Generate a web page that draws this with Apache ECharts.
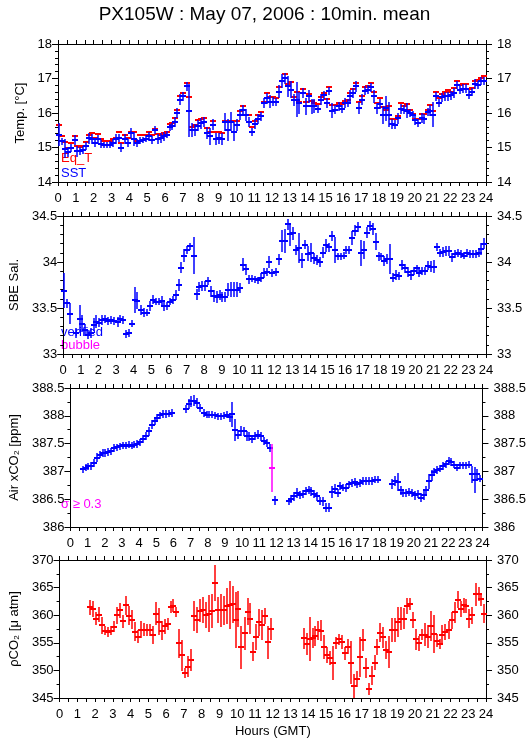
<!DOCTYPE html>
<html>
<head>
<meta charset="utf-8">
<script src="https://cdn.jsdelivr.net/npm/echarts@6/dist/echarts.min.js"></script>
<style>
html,body{margin:0;padding:0;background:#fff;}
#chart{width:529px;height:739px;}
</style>
</head>
<body>
<div id="chart"></div>
<script>
// ---------------- DATA ----------------
const HOUR_TICKS = [0,1,2,3,4,5,6,7,8,9,10,11,12,13,14,15,16,17,18,19,20,21,22,23,24];

// Panel 1: temperatures
const HOURS_T = [
 0.06,0.24,0.41,0.56,0.75,0.94,1.09,1.25,1.40,1.55,
 1.74,1.89,2.06,2.23,2.40,2.57,2.72,2.90,3.09,3.28,
 3.43,3.56,3.75,3.90,4.08,4.27,4.44,4.59,4.78,4.96,
 5.11,5.28,5.43,5.62,5.79,5.94,6.09,6.27,6.42,6.55,
 6.70,6.85,7.02,7.21,7.36,7.53,7.68,7.83,8.01,8.18,
 8.33,8.52,8.67,8.86,9.00,9.19,9.36,9.55,9.70,9.89,
 10.06,10.21,10.39,10.54,10.69,10.88,11.05,11.20,11.37,11.54,
 11.70,11.89,12.08,12.23,12.40,12.55,12.74,12.88,13.05,13.24,
 13.39,13.54,13.73,13.90,14.08,14.23,14.38,14.57,14.72,14.89,
 15.07,15.22,15.39,15.56,15.73,15.90,16.07,16.24,16.39,16.55,
 16.72,16.90,17.06,17.23,17.40,17.57,17.71,17.88,18.03,18.22,
 18.39,18.56,18.73,18.88,19.06,19.23,19.38,19.57,19.72,19.89,
 20.04,20.21,20.41,20.54,20.73,20.88,21.05,21.22,21.39,21.55,
 21.72,21.89,22.06,22.23,22.38,22.55,22.72,22.88,23.05,23.22,
 23.41,23.56,23.73,23.88
];
const SST = [
 15.37,15.18,14.97,14.87,14.98,15.22,14.89,14.89,14.93,15.05,
 15.27,15.25,15.13,15.25,15.10,15.06,15.06,15.08,15.13,15.25,
 15.27,15.00,15.25,15.13,15.42,15.25,15.13,15.20,15.22,15.25,
 15.32,15.22,15.51,15.25,15.27,15.32,15.37,15.58,15.61,15.74,
 16.00,16.38,16.48,16.77,16.07,15.51,15.51,15.63,15.70,15.74,
 15.42,15.32,15.66,15.25,15.27,15.25,15.75,15.51,15.75,15.46,
 15.66,15.95,16.10,15.95,15.74,15.45,15.68,15.83,15.90,16.29,
 16.43,16.33,16.33,16.33,16.62,16.92,17.01,16.77,16.68,16.38,
 16.38,16.29,16.58,16.19,16.48,16.19,16.21,16.12,16.38,16.51,
 16.29,16.65,16.07,16.10,16.19,16.12,16.29,16.29,16.48,16.58,
 16.77,16.14,16.38,16.65,16.68,16.74,16.48,16.14,16.26,15.95,
 16.14,15.95,15.68,15.66,15.85,16.12,16.10,16.07,16.00,15.95,
 15.80,15.70,15.85,15.83,16.03,16.07,15.95,16.48,16.29,16.45,
 16.48,16.48,16.51,16.58,16.80,16.68,16.71,16.71,16.53,16.60,
 16.84,16.80,16.92,16.92
];
const SST_ERR = [
 0.28,0.05,0.21,0.08,0.05,0.08,0.10,0.06,0.05,0.06,
 0.10,0.08,0.06,0.05,0.05,0.03,0.03,0.04,0.05,0.08,
 0.05,0.07,0.08,0.06,0.08,0.15,0.06,0.05,0.04,0.04,
 0.06,0.05,0.06,0.08,0.08,0.06,0.05,0.05,0.05,0.08,
 0.10,0.10,0.08,0.08,0.72,0.15,0.12,0.10,0.10,0.10,
 0.12,0.18,0.10,0.12,0.10,0.12,0.20,0.25,0.22,0.22,
 0.12,0.10,0.08,0.12,0.10,0.05,0.08,0.08,0.08,0.08,
 0.10,0.12,0.08,0.06,0.12,0.15,0.10,0.25,0.20,0.12,
 0.45,0.27,0.10,0.20,0.12,0.15,0.15,0.06,0.10,0.06,
 0.08,0.06,0.15,0.06,0.06,0.06,0.08,0.05,0.12,0.08,
 0.10,0.12,0.10,0.08,0.08,0.06,0.12,0.10,0.10,0.20,
 0.30,0.30,0.10,0.08,0.10,0.08,0.08,0.15,0.06,0.05,
 0.10,0.06,0.08,0.08,0.06,0.10,0.30,0.06,0.06,0.08,
 0.08,0.08,0.08,0.10,0.06,0.06,0.06,0.06,0.08,0.06,
 0.08,0.06,0.06,0.06
];
const EQ_T = [
 15.64,15.32,15.15,14.98,15.13,15.32,15.05,15.02,15.04,15.15,
 15.37,15.42,15.27,15.39,15.25,15.20,15.18,15.20,15.25,15.27,
 15.45,15.13,15.37,15.27,15.46,15.45,15.20,15.37,15.37,15.37,
 15.46,15.37,15.55,15.39,15.37,15.42,15.46,15.68,15.70,15.85,
 16.10,16.48,16.58,16.87,16.45,15.58,15.66,15.80,15.83,15.85,
 15.56,15.46,15.78,15.46,15.46,15.42,15.78,15.78,15.78,15.78,
 15.78,16.05,16.19,15.95,15.93,15.58,15.78,15.93,16.03,16.33,
 16.58,16.46,16.46,16.43,16.74,16.92,17.13,16.84,16.89,16.46,
 16.60,16.31,16.69,16.33,16.55,16.35,16.29,16.26,16.45,16.58,
 16.41,16.75,16.24,16.24,16.29,16.26,16.35,16.38,16.58,16.69,
 16.87,16.31,16.48,16.74,16.77,16.87,16.62,16.29,16.43,16.16,
 16.10,16.21,15.82,15.82,15.90,16.29,16.21,16.26,16.10,15.97,
 15.83,15.83,15.97,15.97,16.10,16.24,16.07,16.60,16.43,16.55,
 16.60,16.68,16.60,16.72,16.92,16.82,16.84,16.84,16.71,16.72,
 16.92,16.97,17.01,17.06
];

// Panel 2: SBE salinity
const HOURS_S = [
 0.06,0.24,0.41,0.71,0.94,1.09,1.25,1.40,1.55,1.74,
 1.89,2.06,2.23,2.40,2.57,2.72,2.90,3.09,3.24,3.41,
 3.58,3.75,3.90,4.06,4.21,4.40,4.59,4.74,4.91,5.09,
 5.24,5.43,5.60,5.75,5.90,6.09,6.24,6.40,6.55,6.70,
 6.87,7.04,7.21,7.40,7.57,7.73,7.88,8.05,8.22,8.39,
 8.56,8.71,8.88,9.04,9.21,9.38,9.55,9.72,9.89,10.06,
 10.22,10.39,10.56,10.73,10.90,11.07,11.24,11.40,11.57,11.70,
 11.87,12.08,12.23,12.40,12.57,12.74,12.90,13.05,13.22,13.39,
 13.56,13.73,13.90,14.07,14.24,14.40,14.57,14.74,14.91,15.07,
 15.24,15.41,15.58,15.75,15.92,16.08,16.25,16.40,16.57,16.74,
 16.91,17.06,17.23,17.40,17.57,17.74,17.90,18.05,18.22,18.39,
 18.56,18.73,18.90,19.07,19.23,19.40,19.57,19.74,19.89,20.06,
 20.21,20.38,20.54,20.71,20.88,21.05,21.22,21.39,21.55,21.72,
 21.89,22.06,22.23,22.40,22.57,22.74,22.90,23.07,23.24,23.41,
 23.58,23.73,23.88
];
const SAL = [
 33.69,33.55,33.44,33.23,33.38,33.33,33.26,33.21,33.23,33.32,
 33.35,33.34,33.37,33.38,33.36,33.37,33.36,33.35,33.38,33.37,
 33.22,33.23,33.33,33.59,33.58,33.48,33.45,33.45,33.52,33.59,
 33.57,33.57,33.58,33.52,33.52,33.57,33.59,33.64,33.75,33.94,
 34.07,34.13,34.17,34.07,33.65,33.73,33.74,33.74,33.79,33.68,
 33.63,33.62,33.64,33.62,33.62,33.70,33.70,33.70,33.70,33.72,
 33.97,33.92,33.81,33.82,33.81,33.80,33.83,33.88,33.89,34.00,
 33.88,33.89,34.03,34.23,34.23,34.41,34.30,34.31,34.13,34.15,
 34.02,34.19,34.09,34.10,34.04,34.02,34.00,34.10,34.18,34.16,
 34.28,34.13,34.06,34.06,34.07,34.13,34.13,34.26,34.34,34.38,
 34.10,34.13,34.32,34.39,34.36,34.22,34.06,34.06,34.01,34.03,
 34.03,33.83,33.86,33.85,33.97,33.93,33.89,33.86,33.90,33.93,
 33.88,33.90,33.90,33.96,33.95,33.95,34.16,34.10,34.11,34.12,
 34.12,34.05,34.09,34.10,34.09,34.07,34.10,34.09,34.09,34.09,
 34.10,34.14,34.20
];
const SAL_ERR = [
 0.17,0.03,0.09,0.03,0.13,0.07,0.04,0.03,0.03,0.05,
 0.05,0.03,0.03,0.02,0.02,0.02,0.02,0.03,0.02,0.02,
 0.02,0.02,0.02,0.12,0.07,0.03,0.03,0.02,0.03,0.03,
 0.02,0.02,0.03,0.03,0.02,0.02,0.02,0.03,0.04,0.04,
 0.05,0.02,0.02,0.18,0.04,0.03,0.03,0.03,0.02,0.04,
 0.04,0.04,0.03,0.03,0.03,0.05,0.06,0.06,0.06,0.03,
 0.05,0.04,0.03,0.02,0.02,0.02,0.03,0.03,0.02,0.04,
 0.02,0.02,0.04,0.10,0.11,0.04,0.10,0.05,0.03,0.14,
 0.06,0.03,0.06,0.08,0.04,0.03,0.03,0.04,0.05,0.03,
 0.03,0.12,0.02,0.02,0.02,0.02,0.02,0.05,0.04,0.03,
 0.12,0.08,0.04,0.03,0.04,0.07,0.03,0.02,0.03,0.03,
 0.14,0.03,0.03,0.02,0.03,0.03,0.03,0.03,0.02,0.02,
 0.02,0.02,0.02,0.03,0.04,0.05,0.02,0.02,0.03,0.03,
 0.03,0.03,0.02,0.02,0.02,0.02,0.02,0.02,0.02,0.02,
 0.02,0.04,0.04
];

// Panel 3: Air xCO2
const HOURS_A = [
 0.71,0.88,1.05,1.22,1.39,1.55,1.70,1.87,2.04,2.21,
 2.38,2.55,2.72,2.88,3.05,3.22,3.39,3.56,3.73,3.90,
 4.06,4.23,4.40,4.57,4.74,4.91,5.07,5.24,5.41,5.58,
 5.75,5.92,6.72,6.89,7.02,7.19,7.36,7.53,7.77,7.94,
 8.09,8.26,8.43,8.60,8.76,8.93,9.10,9.27,9.44,9.59,
 9.76,9.93,10.09,10.26,10.43,10.60,10.77,10.94,11.10,11.27,
 11.44,11.61,11.89,
 12.73,12.87,13.04,13.20,13.37,13.54,13.71,
 13.88,14.04,14.21,14.38,14.55,14.72,14.89,15.06,15.22,15.39,
 15.56,15.71,15.88,16.05,16.22,16.39,16.55,16.72,16.89,17.06,
 17.23,17.40,17.57,17.73,17.90,18.73,18.90,
 19.07,19.23,19.40,19.57,19.74,19.91,20.07,20.24,20.41,20.58,
 20.73,20.90,21.04,21.18,21.35,21.52,21.68,21.85,22.04,22.19,
 22.36,22.53,22.70,22.87,23.03,23.20,23.41,23.54,23.71,23.88
];
const AIR = [
 387.04,387.07,387.09,387.10,387.15,387.25,387.30,387.33,387.33,387.35,
 387.36,387.42,387.43,387.45,387.47,387.46,387.48,387.46,387.48,387.49,
 387.52,387.58,387.64,387.72,387.84,387.91,387.96,388.01,388.03,388.03,
 388.04,388.05,388.12,388.21,388.26,388.27,388.23,388.14,388.05,388.02,
 388.02,388.02,388.01,387.99,387.99,388.00,388.02,387.97,388.03,387.75,
 387.66,387.73,387.72,387.64,387.63,387.58,387.64,387.66,387.63,387.55,
 387.51,387.42,386.48,
 386.46,386.50,386.55,386.61,386.58,386.59,386.65,
 386.67,386.64,386.59,386.55,386.47,386.46,386.35,386.35,386.63,386.68,
 386.61,386.74,386.71,386.70,386.77,386.79,386.81,386.77,386.79,386.83,
 386.83,386.83,386.83,386.85,386.85,386.77,386.83,
 386.81,386.66,386.61,386.61,386.63,386.61,386.57,386.59,386.53,386.57,
 386.67,386.82,386.93,386.99,387.03,387.05,387.10,387.13,387.19,387.17,
 387.12,387.07,387.11,387.11,387.11,387.12,386.95,386.85,386.95,386.87
];
const AIR_ERR = [
 0.03,0.03,0.03,0.03,0.04,0.04,0.03,0.03,0.03,0.03,
 0.03,0.03,0.03,0.03,0.03,0.03,0.03,0.03,0.03,0.03,
 0.03,0.04,0.04,0.04,0.05,0.04,0.03,0.03,0.03,0.03,
 0.03,0.03,0.04,0.05,0.06,0.06,0.05,0.04,0.03,0.03,
 0.03,0.03,0.03,0.03,0.03,0.03,0.03,0.04,0.19,0.16,
 0.05,0.05,0.04,0.05,0.04,0.04,0.04,0.04,0.04,0.04,
 0.04,0.04,0.04,
 0.03,0.04,0.04,0.05,0.04,0.04,0.04,
 0.04,0.04,0.04,0.04,0.04,0.04,0.04,0.04,0.08,0.05,
 0.04,0.03,0.03,0.03,0.03,0.03,0.04,0.03,0.03,0.03,
 0.03,0.03,0.03,0.03,0.03,0.05,0.05,
 0.12,0.04,0.04,0.04,0.04,0.04,0.04,0.04,0.04,0.04,
 0.04,0.10,0.06,0.04,0.04,0.03,0.03,0.03,0.04,0.03,
 0.03,0.03,0.03,0.03,0.03,0.03,0.12,0.20,0.05,0.03
];
// Air xCO2 points flagged sigma >= 0.3 (magenta)
const HOURS_A_HI = [11.74];
const AIR_HI = [387.06];
const AIR_HI_LO = [386.67];
const AIR_HI_HI = [387.45];

// Panel 4: pCO2
const HOURS_P = [
 1.70,1.87,2.04,2.21,2.38,2.55,2.72,2.88,3.05,3.22,
 3.39,3.56,3.73,3.90,4.06,4.23,4.40,4.57,4.74,4.91,
 5.07,5.24,5.41,5.58,5.75,5.92,6.09,6.26,6.41,6.57,
 6.74,6.89,7.04,7.21,7.40,7.55,7.73,7.88,8.05,8.22,
 8.39,8.56,8.73,8.90,9.06,9.23,9.40,9.57,9.74,9.91,
 10.06,10.22,10.41,10.58,10.73,10.90,11.05,11.24,11.39,11.55,
 11.72,11.88,
 13.73,13.90,14.07,14.24,14.40,14.57,14.74,14.91,15.07,15.24,
 15.41,15.58,15.75,15.92,16.08,16.24,16.39,16.56,16.73,16.90,
 17.06,17.23,17.40,17.57,17.74,17.88,18.05,18.22,18.39,18.56,
 18.73,18.90,19.07,19.23,19.40,19.57,19.74,19.91,20.06,20.21,
 20.38,20.54,20.71,20.88,21.05,21.22,21.39,21.55,21.72,21.89,
 22.06,22.23,22.40,22.57,22.74,22.90,23.07,23.24,23.41,23.58,
 23.73,23.88
];
const PCO2 = [
 361.4,361.1,359.4,360.1,358.2,357.2,357.0,357.2,357.9,360.0,
 360.9,358.9,361.8,359.9,359.2,357.0,356.1,357.4,357.4,357.3,
 357.3,356.4,360.3,358.8,357.2,358.0,358.4,361.5,361.7,360.6,
 354.9,352.7,349.5,350.7,351.9,359.9,359.1,360.8,360.9,360.0,
 360.3,360.8,365.8,360.9,360.9,360.9,361.7,361.8,362.0,359.1,
 361.1,354.2,356.7,360.6,359.4,353.4,356.0,358.7,358.2,359.9,
 355.1,357.5,
 355.8,354.8,355.7,355.8,356.2,357.3,357.2,354.3,352.8,352.2,
 351.3,354.9,355.6,355.2,353.1,354.3,351.4,347.2,348.4,352.4,
 355.5,350.4,346.6,349.0,351.4,354.2,356.8,356.0,353.7,353.3,
 357.3,357.3,358.8,359.4,359.4,361.7,362.0,359.1,355.6,354.9,
 356.5,356.5,356.1,358.0,356.6,355.4,354.8,356.5,357.0,357.3,
 359.1,360.5,362.8,361.2,361.8,361.7,359.4,360.0,363.8,363.8,
 362.9,360.3
];
const PCO2_ERR = [
 1.0,1.1,0.85,1.0,1.2,0.5,0.5,0.4,0.6,1.2,
 1.0,0.8,1.4,1.4,1.4,1.4,0.8,1.2,0.8,0.7,
 0.7,1.2,1.75,2.1,1.4,1.0,0.8,0.8,0.8,0.6,
 2.3,2.4,0.6,1.5,1.7,2.4,2.0,1.7,2.0,2.0,
 3.0,2.7,2.9,2.0,2.6,2.3,2.9,4.0,3.0,4.7,
 2.9,3.5,2.6,2.1,2.4,1.3,2.0,2.1,2.3,1.1,
 2.6,1.7,
 1.5,1.7,3.6,1.45,1.45,1.35,1.5,1.8,1.05,0.9,
 2.7,0.75,0.7,0.9,0.8,1.0,3.5,1.75,1.05,3.3,
 1.6,1.5,0.75,1.35,1.05,1.05,1.35,1.5,1.35,2.5,
 1.8,1.8,2.3,1.75,1.6,1.1,0.75,1.05,1.6,1.0,
 0.6,1.8,1.75,2.4,3.1,0.85,0.6,1.3,1.1,1.2,
 1.2,1.5,1.2,1.1,0.95,0.9,1.35,1.2,1.7,0.9,
 0.8,1.3
];

// ---------------- CHART ----------------
const BLUE = '#0000ff', RED = '#ff0000', MAGENTA = '#ff00ff';
const FONT = 'Liberation Sans';
const TICK_FS = 13;

const chart = echarts.init(document.getElementById('chart'), null, {renderer: 'canvas'});

const GRID_TOPS = [44, 216, 388, 560];
const GRID_HEIGHTS = [138, 138, 139, 138];
const grids = GRID_TOPS.map((t, i) => ({left: 58, right: 43, top: t, height: GRID_HEIGHTS[i]}));

const YSPEC = [
  {min: 14, max: 18, interval: 1, minor: 5, name: 'Temp. [°C]', gap: 22},
  {min: 33, max: 34.5, interval: 0.5, minor: 5, name: 'SBE Sal.', gap: 37},
  {min: 386, max: 388.5, interval: 0.5, minor: 2, name: 'Air xCO₂ [ppm]', gap: 43},
  {min: 345, max: 370, interval: 5, minor: 2, name: 'ρCO₂ [μ atm]', gap: 26}
];

const axisLine = {show: true, onZero: false, lineStyle: {color: '#000', width: 1}};
const xAxes = [], yAxes = [];
for (let i = 0; i < 4; i++) {
  xAxes.push({
    type: 'value', gridIndex: i, position: 'bottom', min: 0, max: 24, interval: 1,
    axisLine, splitLine: {show: false},
    axisTick: {show: true, length: 4, lineStyle: {color: '#000'}},
    minorTick: {show: true, splitNumber: 2, length: 4, lineStyle: {color: '#000'}},
    axisLabel: {show: true, margin: 10, color: '#000', fontFamily: FONT, fontSize: TICK_FS,
      formatter: v => (HOUR_TICKS.indexOf(v) >= 0 ? String(v) : '')},
    name: i === 3 ? 'Hours (GMT)' : '', nameLocation: 'middle', nameGap: 27,
    nameTextStyle: {color: '#000', fontFamily: FONT, fontSize: 13}
  });
  xAxes.push({
    type: 'value', gridIndex: i, position: 'top', min: 0, max: 24, interval: 1,
    axisLine, splitLine: {show: false},
    axisTick: {show: true, length: 4, lineStyle: {color: '#000'}},
    minorTick: {show: true, splitNumber: 2, length: 4, lineStyle: {color: '#000'}},
    axisLabel: {show: false}
  });
  const ys = YSPEC[i];
  const common = {
    type: 'value', gridIndex: i, min: ys.min, max: ys.max, interval: ys.interval,
    axisLine, splitLine: {show: false},
    axisTick: {show: true, length: 6, lineStyle: {color: '#000'}},
    minorTick: {show: true, splitNumber: ys.minor, length: 3, lineStyle: {color: '#000'}}
  };
  yAxes.push(Object.assign({}, common, {
    position: 'left',
    axisLabel: {margin: 6, color: '#000', fontFamily: FONT, fontSize: TICK_FS},
    name: ys.name, nameLocation: 'middle', nameGap: ys.gap, nameRotate: 90,
    nameTextStyle: {color: '#000', fontFamily: FONT, fontSize: 13}
  }));
  yAxes.push(Object.assign({}, common, {
    position: 'right',
    axisLabel: {margin: 11, color: '#000', fontFamily: FONT, fontSize: TICK_FS}
  }));
}

// "+" marker: 2px horizontal dash, 1.5px vertical error bar
function crossRender(color, halfW, vertical) {
  return function (params, api) {
    const x = api.value(0);
    const p = api.coord([x, api.value(1)]);
    const cx = Math.round(p[0]), cy = Math.round(p[1]);
    const children = [
      {type: 'line', shape: {x1: cx - halfW, y1: cy, x2: cx + halfW, y2: cy},
       style: {stroke: color, lineWidth: 2}}
    ];
    if (vertical) {
      const lo = api.coord([x, api.value(2)]);
      const hi = api.coord([x, api.value(3)]);
      children.push({type: 'line', shape: {x1: cx, y1: Math.round(hi[1]) - 2, x2: cx, y2: Math.round(lo[1]) + 2},
        style: {stroke: color, lineWidth: 1.5}});
    }
    return {type: 'group', children};
  };
}

function build(hours, vals, errs) {
  return hours.map((h, i) => [h, vals[i], vals[i] - errs[i], vals[i] + errs[i]]);
}

const series = [
  {type: 'custom', name: 'Eq_T', xAxisIndex: 0, yAxisIndex: 0,
   renderItem: crossRender(RED, 3, false),
   data: HOURS_T.map((h, i) => [h, EQ_T[i], EQ_T[i], EQ_T[i]])},
  {type: 'custom', name: 'SST', xAxisIndex: 0, yAxisIndex: 0,
   renderItem: crossRender(BLUE, 3, true), data: build(HOURS_T, SST, SST_ERR)},
  {type: 'custom', name: 'verified', xAxisIndex: 2, yAxisIndex: 2,
   renderItem: crossRender(BLUE, 3, true), data: build(HOURS_S, SAL, SAL_ERR)},
  {type: 'custom', name: 'Air xCO2', xAxisIndex: 4, yAxisIndex: 4,
   renderItem: crossRender(BLUE, 3, true), data: build(HOURS_A, AIR, AIR_ERR)},
  {type: 'custom', name: 'sigma>=0.3', xAxisIndex: 4, yAxisIndex: 4,
   renderItem: crossRender(MAGENTA, 3, true),
   data: HOURS_A_HI.map((h, i) => [h, AIR_HI[i], AIR_HI_LO[i], AIR_HI_HI[i]])},
  {type: 'custom', name: 'pCO2', xAxisIndex: 6, yAxisIndex: 6,
   renderItem: crossRender(RED, 3, true), data: build(HOURS_P, PCO2, PCO2_ERR)}
];

function label(text, x, y, color) {
  return {type: 'text', x, y, silent: true,
    style: {text, fill: color, font: '13px "Liberation Sans"', align: 'left', verticalAlign: 'middle'}};
}

chart.setOption({
  animation: false,
  backgroundColor: '#fff',
  title: {text: 'PX105W : May 07, 2006 : 10min. mean', left: 'center', top: 0,
    textStyle: {fontFamily: FONT, fontSize: 19, fontWeight: 'normal', color: '#000'}},
  grid: grids,
  xAxis: xAxes,
  yAxis: yAxes,
  series,
  graphic: [
    label('Eq_T', 61, 158, RED),
    label('SST', 61, 173, BLUE),
    label('verified', 61, 332, BLUE),
    label('bubble', 61, 345, MAGENTA),
    label('σ ≥ 0.3', 61, 504, MAGENTA)
  ]
});
</script>
</body>
</html>
